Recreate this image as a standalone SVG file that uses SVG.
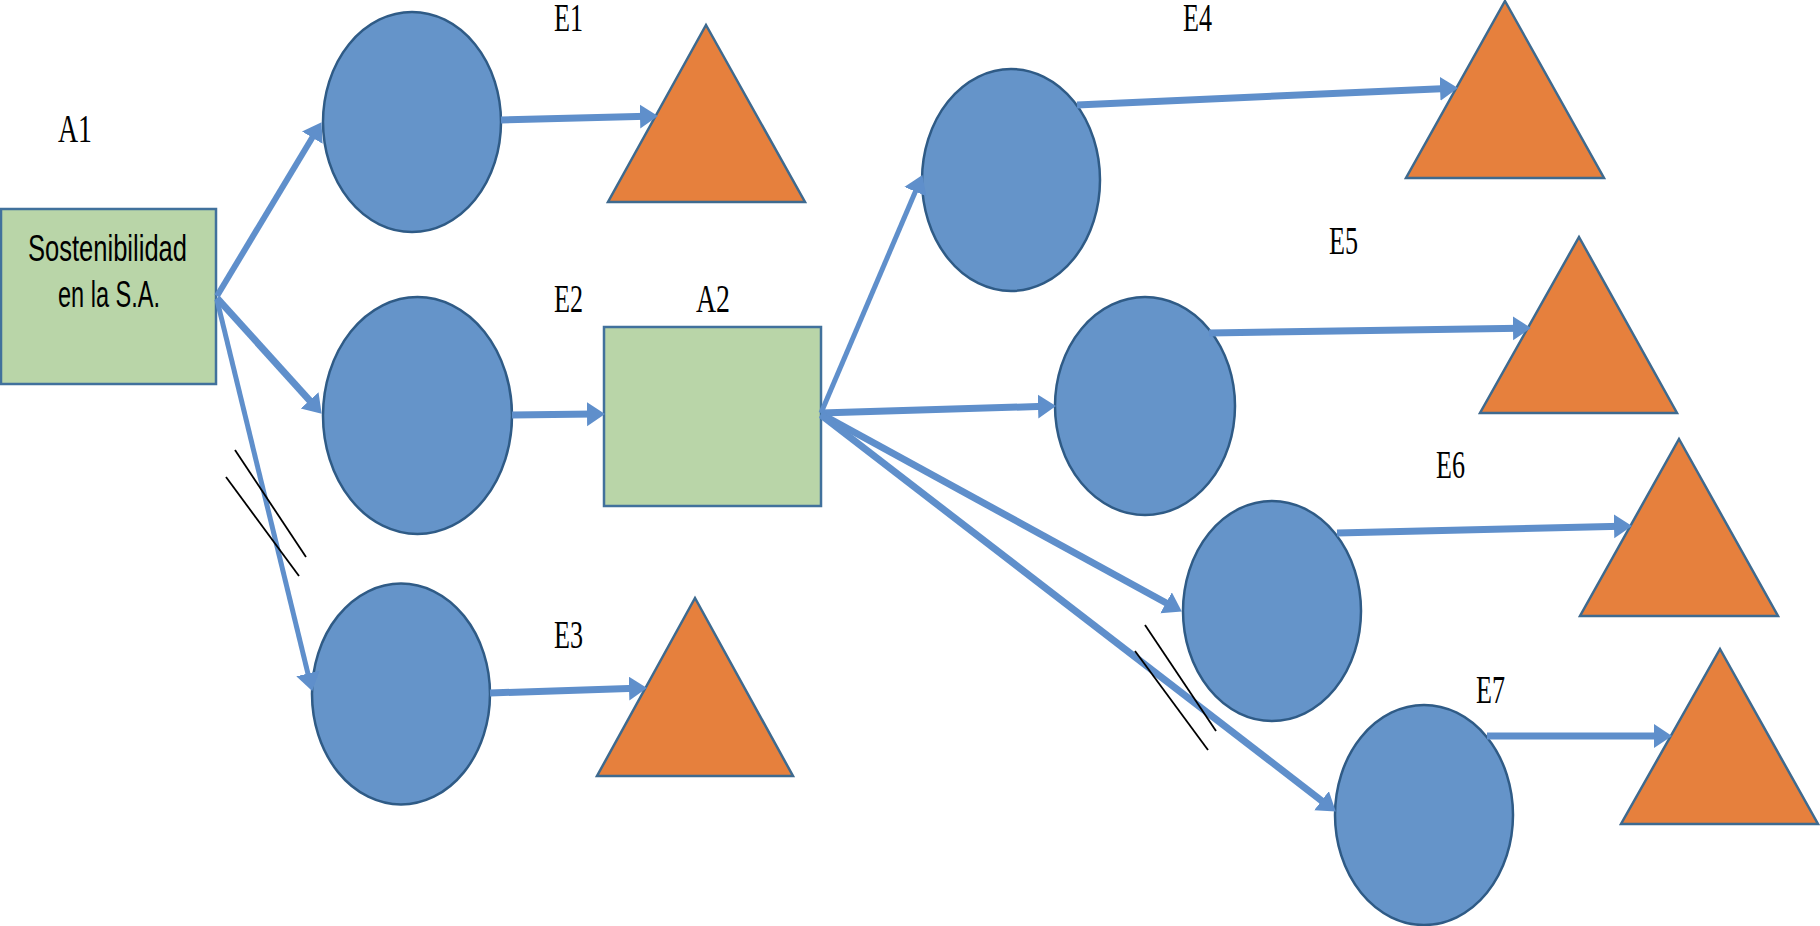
<svg xmlns="http://www.w3.org/2000/svg" width="1820" height="926" viewBox="0 0 1820 926">
<style>
.box{fill:#B9D5A8;stroke:#41719C;stroke-width:2.5}
.ell{fill:#6594C9;stroke:#2F5B86;stroke-width:2.5}
.tri{fill:#E6803D;stroke:#3E6A8F;stroke-width:2.5;stroke-linejoin:miter}
.con{stroke:#5F8FCB;stroke-width:7;fill:none;marker-end:url(#ah)}
.mid{stroke-width:6}
.thin{stroke-width:5}
.sl{stroke:#000;stroke-width:1.8}
.lbl{font-family:"Liberation Serif","Times New Roman",serif;font-size:40px;fill:#000}
.txt{font-family:"Liberation Sans",Arial,sans-serif;font-size:37px;fill:#000}
</style>
<defs>
<marker id="ah" markerUnits="userSpaceOnUse" markerWidth="19" markerHeight="25" refX="7" refY="12" orient="auto" viewBox="0 0 19 25">
<path d="M0,0 L18,12 L0,24 z" fill="#5F8FCB"/>
</marker>
</defs>
<rect width="1820" height="926" fill="#fff"/>
<g id="A1">
<rect class="box" x="1" y="209" width="215" height="175"/>
<text class="txt" x="28" y="261" textLength="159" lengthAdjust="spacingAndGlyphs">Sostenibilidad</text>
<text class="txt" x="58" y="307" textLength="102" lengthAdjust="spacingAndGlyphs">en la S.A.</text>
<text class="lbl" x="58" y="142" textLength="34" lengthAdjust="spacingAndGlyphs">A1</text>
</g>
<g id="A2">
<rect class="box" x="604" y="327" width="217" height="179"/>
<text class="lbl" x="696" y="312" textLength="34" lengthAdjust="spacingAndGlyphs">A2</text>
</g>
<g id="C1"><ellipse class="ell" cx="412" cy="122" rx="89" ry="110"/></g>
<g id="C2"><ellipse class="ell" cx="417.5" cy="415.5" rx="94.5" ry="118.5"/></g>
<g id="C3"><ellipse class="ell" cx="401" cy="694" rx="89" ry="110.5"/></g>
<g id="C4"><ellipse class="ell" cx="1011" cy="180" rx="89" ry="111"/></g>
<g id="C5"><ellipse class="ell" cx="1145" cy="406" rx="90" ry="109"/></g>
<g id="C6"><ellipse class="ell" cx="1272" cy="611" rx="89" ry="110"/></g>
<g id="C7"><ellipse class="ell" cx="1424" cy="815" rx="89" ry="110"/></g>
<g id="T1"><polygon class="tri" points="706,25 805,202 608,202"/></g>
<g id="T3"><polygon class="tri" points="695,598 793,776 597,776"/></g>
<g id="T4"><polygon class="tri" points="1505,1 1604,178 1406,178"/></g>
<g id="T5"><polygon class="tri" points="1579,237 1677,413 1480,413"/></g>
<g id="T6"><polygon class="tri" points="1679,439 1778,616 1580,616"/></g>
<g id="T7"><polygon class="tri" points="1720,649 1818,824 1621,824"/></g>
<g id="labels">
<text class="lbl" x="554" y="31" textLength="29" lengthAdjust="spacingAndGlyphs">E1</text>
<text class="lbl" x="554" y="312" textLength="29" lengthAdjust="spacingAndGlyphs">E2</text>
<text class="lbl" x="554" y="648" textLength="29" lengthAdjust="spacingAndGlyphs">E3</text>
<text class="lbl" x="1183" y="31" textLength="29" lengthAdjust="spacingAndGlyphs">E4</text>
<text class="lbl" x="1329" y="254" textLength="29" lengthAdjust="spacingAndGlyphs">E5</text>
<text class="lbl" x="1436" y="478" textLength="29" lengthAdjust="spacingAndGlyphs">E6</text>
<text class="lbl" x="1476" y="703" textLength="29" lengthAdjust="spacingAndGlyphs">E7</text>
</g>
<g id="connectors">
<line class="con mid" x1="217" y1="296" x2="315.9" y2="131.6"/>
<line class="con" x1="217" y1="298" x2="314.3" y2="405.6"/>
<line class="con thin" x1="217" y1="300" x2="309.6" y2="680.3"/>
<line class="con" x1="501" y1="120" x2="647" y2="116.3"/>
<line class="con" x1="512" y1="415" x2="594" y2="414.1"/>
<line class="con" x1="490" y1="693" x2="636" y2="688.3"/>
<line class="con thin" x1="821" y1="413" x2="918.1" y2="185.2"/>
<line class="con" x1="821" y1="413" x2="1045" y2="406.3"/>
<line class="con" x1="821" y1="414" x2="1172.2" y2="606.2"/>
<line class="con" x1="821" y1="415" x2="1327.1" y2="804.9"/>
<line class="con" x1="1077" y1="105" x2="1447" y2="88.4"/>
<line class="con" x1="1209" y1="333" x2="1520" y2="328.2"/>
<line class="con" x1="1337" y1="533" x2="1621" y2="526.2"/>
<line class="con" x1="1487" y1="736" x2="1661" y2="736"/>
<line class="sl" x1="235" y1="450" x2="306" y2="557"/>
<line class="sl" x1="226" y1="477" x2="299" y2="576"/>
<line class="sl" x1="1145" y1="625" x2="1216" y2="731"/>
<line class="sl" x1="1135" y1="651" x2="1208" y2="750"/>
</g>
</svg>
